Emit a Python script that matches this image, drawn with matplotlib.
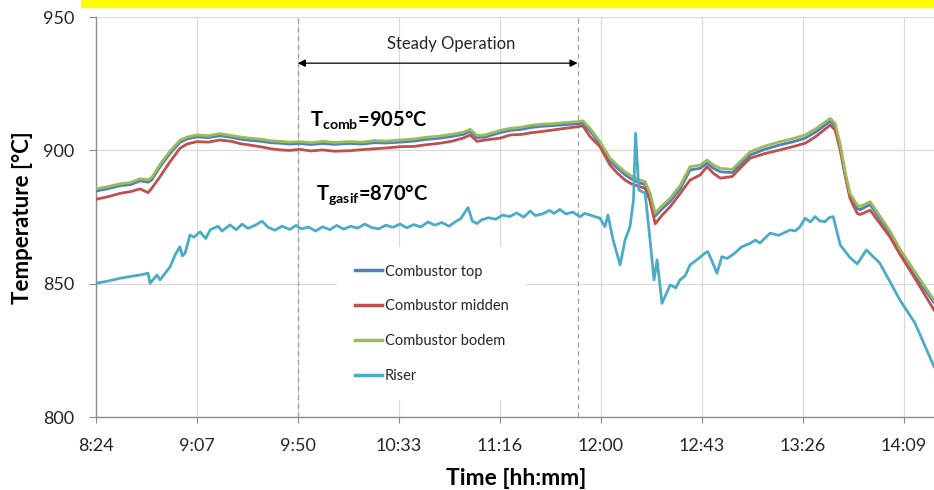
import matplotlib.pyplot as plt
from matplotlib.patches import Rectangle

plt.rcParams['font.family'] = 'Lato'
plt.rcParams['mathtext.fontset'] = 'custom'
plt.rcParams['mathtext.rm'] = 'Lato'
plt.rcParams['mathtext.bf'] = 'Lato:bold'
plt.rcParams['mathtext.it'] = 'Lato:italic'

# time in minutes since midnight, temperatures in degC
comb_time = [504, 509, 514.4, 519, 522.9, 526.4, 528, 531.5, 535.8, 540, 543, 547.3, 552,
             557.1, 562, 566, 569.9, 575, 579, 582.8, 587, 591.3, 596, 601, 606, 612.7,
             618, 623, 628, 634.1, 640, 645, 651.2, 656, 661, 664.1, 667, 670.5, 676.9,
             681.2, 686, 690, 694, 699, 704, 710.2, 712.3, 715.3, 719.6, 723.9, 727, 730.3,
             733, 736.7, 738.9, 741, 743.2, 746, 749.6, 754, 758.1, 762.4, 765.4, 768, 771,
             776.1, 780, 783.8, 790, 796.6, 802, 807.3, 812, 818, 820.1, 822.2, 824.4,
             826.5, 829.5, 830.8, 835.1, 843.6, 847.9, 855, 862.4]

comb_bodem = [885.6, 886.4, 887.5, 888.0, 889.4, 889.0, 889.9, 894.8, 899.8, 903.8, 905.0,
              905.8, 905.5, 906.3, 905.6, 905.0, 904.6, 904.2, 903.6, 903.4, 903.1, 903.3,
              902.9, 903.4, 903.0, 903.3, 903.1, 903.7, 903.5, 903.9, 904.3, 904.9, 905.4,
              906.0, 906.8, 907.9, 905.6, 905.8, 907.5, 908.3, 908.7, 909.4, 909.8, 910.0,
              910.4, 910.8, 911.1, 908.3, 903.3, 897.1, 894.5, 892.0, 890.4, 888.9, 888.3,
              884.0, 876.5, 879.2, 882.1, 887.0, 893.9, 894.5, 896.4, 894.6, 893.3, 892.9,
              896.2, 899.5, 901.6, 903.3, 904.4, 905.8, 908.2, 912.0, 910.2, 902.7, 892.0,
              883.9, 879.6, 879.0, 880.8, 869.8, 863.0, 853.5, 844.0]

comb_top = [884.8, 885.6, 886.8, 887.2, 888.6, 888.1, 889.0, 893.9, 898.9, 903.0, 904.3,
            905.1, 904.8, 905.5, 904.9, 904.2, 903.8, 903.4, 902.9, 902.7, 902.4, 902.6,
            902.2, 902.6, 902.3, 902.6, 902.4, 902.9, 902.8, 903.1, 903.5, 904.1, 904.6,
            905.2, 906.0, 907.1, 904.8, 905.0, 906.7, 907.5, 907.9, 908.6, 909.0, 909.3,
            909.6, 910.0, 910.3, 907.4, 902.4, 896.0, 893.4, 890.9, 889.3, 887.8, 887.2,
            882.9, 875.4, 878.0, 880.9, 885.8, 892.7, 893.3, 895.2, 893.4, 892.0, 891.7,
            895.0, 898.3, 900.4, 902.1, 903.2, 904.6, 907.0, 910.9, 909.1, 901.6, 891.0,
            882.8, 878.2, 877.8, 879.7, 868.8, 862.0, 852.4, 843.0]

comb_midden = [881.7, 882.6, 883.9, 884.6, 885.6, 884.2, 885.9, 890.2, 895.8, 900.8, 902.4,
               903.3, 903.1, 903.9, 903.4, 902.5, 902.0, 901.3, 900.6, 900.2, 900.0, 900.4,
               899.8, 900.2, 899.7, 899.9, 900.3, 900.6, 900.9, 901.4, 901.5, 902.1, 902.7,
               903.4, 904.6, 905.8, 903.4, 903.9, 904.6, 905.8, 906.0, 906.6, 907.0, 907.6,
               908.2, 908.9, 909.2, 905.2, 901.4, 894.5, 891.5, 888.9, 887.5, 886.4, 885.8,
               881.0, 872.5, 875.6, 878.9, 884.0, 888.9, 890.8, 893.9, 891.5, 889.6, 890.2,
               893.8, 897.1, 898.8, 900.2, 901.4, 902.7, 905.3, 909.5, 907.7, 900.5, 890.5,
               882.0, 876.5, 876.0, 877.6, 867.5, 861.0, 851.0, 840.2]

riser_time = [504, 509, 514.4, 519, 522.9, 526.4, 527.2, 530.2, 531.5, 535.8, 538, 540.0,
              541, 542.2, 544.3, 546, 548.6, 551, 553, 556.3, 558, 561.4, 564, 566.6, 569,
              572.5, 575.1, 577.7, 580.6, 583.6, 587, 589.6, 592, 595, 598, 601, 604, 607,
              610, 613, 616, 619, 622, 625, 628, 631, 634.1, 637, 640, 643, 646, 649, 652,
              655, 658, 660, 663.2, 665, 667, 669, 672, 675, 678, 681, 684, 687, 689.7, 692,
              695, 698, 700, 702.4, 705, 708, 711, 713, 715.3, 719.6, 721.7, 723.0, 725.2,
              728.2, 730.3, 732.4, 733.9, 734.8, 736.2, 738.9, 741.0, 742.7, 744.0, 746.1,
              749.6, 752, 753.8, 756, 758.1, 761, 764.5, 765.7, 767.5, 769.6, 771.7, 774,
              777.2, 780, 783.8, 786, 788, 792.3, 796, 800.9, 803, 805.1, 807.3, 809.5,
              811.6, 813.5, 815.8, 817.5, 819.3, 822.3, 826.6, 829.6, 833.5, 839.2, 847.8,
              854.2, 862.4]

riser = [850.2, 851.0, 852.1, 852.8, 853.3, 854.0, 850.2, 853.3, 851.5, 856.4, 861.0, 863.9,
         860.5, 861.5, 868.3, 867.5, 869.5, 867.0, 870.3, 871.6, 869.8, 872.1, 870.3, 872.4,
         870.8, 872.1, 873.5, 871.2, 870.1, 871.6, 870.4, 871.9, 870.6, 871.3, 869.8, 871.4,
         870.3, 871.9, 870.5, 871.6, 870.9, 872.4, 871.1, 870.6, 872.0, 871.2, 872.4, 871.0,
         872.2, 871.3, 873.2, 872.0, 873.0, 871.6, 873.4, 874.4, 878.6, 873.5, 872.6, 874.0,
         874.8, 874.2, 875.8, 875.2, 876.6, 875.0, 877.3, 875.6, 876.2, 877.5, 876.4, 877.9,
         876.2, 876.9, 875.1, 876.4, 875.8, 874.6, 871.4, 875.8, 866.4, 857.1, 866.4, 871.4,
         881.4, 906.4, 885.2, 883.9, 866.4, 851.5, 859.0, 842.7, 849.6, 848.5, 851.5, 853.0,
         857.1, 859.0, 861.5, 862.1, 858.5, 854.0, 860.2, 859.5, 861.5, 863.8, 865.2, 866.4,
         865.3, 869.0, 868.2, 870.2, 869.8, 871.4, 874.6, 873.2, 875.2, 873.6, 873.3, 874.8,
         875.2, 864.6, 859.7, 857.5, 862.7, 857.8, 844.0, 835.4, 819.0]

tick_pos = [504 + 43.2 * i for i in range(9)]
tick_labels = ['8:24', '9:07', '9:50', '10:33', '11:16', '12:00', '12:43', '13:26', '14:09']
steady_start, steady_end = 590.4, 710.0

fig = plt.figure(figsize=(9.34, 4.9), dpi=100)
ax = fig.add_axes([0.1025, 0.1484, 0.8975, 0.8169])

ax.plot(comb_time, comb_top, color='#4F81BD', lw=2.0, label='Combustor top', zorder=3)
ax.plot(comb_time, comb_midden, color='#C0504D', lw=2.0, label='Combustor midden', zorder=3)
ax.plot(comb_time, comb_bodem, color='#9BBB59', lw=2.0, label='Combustor bodem', zorder=3)
ax.plot(riser_time, riser, color='#4BACC6', lw=2.0, label='Riser', zorder=3)

ax.set_xlim(504, 862.4)
ax.set_ylim(800, 950)
ax.set_xticks(tick_pos)
ax.set_xticklabels(tick_labels)
ax.set_yticks([800, 850, 900, 950])
ax.grid(True, color='#D9D9D9', lw=0.9)
ax.set_axisbelow(True)
for side in ['top', 'right']:
    ax.spines[side].set_visible(False)
for side in ['left', 'bottom']:
    ax.spines[side].set_color('#8C8C8C')
    ax.spines[side].set_linewidth(1.0)
ax.tick_params(axis='y', length=5, color='#8C8C8C', pad=10.5, labelsize=13, labelcolor='#262626')
ax.tick_params(axis='x', length=4.5, color='#8C8C8C', pad=10.5, labelsize=13, labelcolor='#262626')

ax.set_ylabel('Temperature [°C]', fontsize=16, fontweight='bold')
ax.yaxis.set_label_coords(-0.0745, 0.5)
ax.set_xlabel('Time [hh:mm]', fontsize=16.5, fontweight='bold')
ax.xaxis.set_label_coords(0.501, -0.152)
ax.xaxis.label.set_verticalalignment('center')

# steady operation window
for t in [steady_start, steady_end]:
    ax.axvline(t, color='#A0A0A0', lw=0.9, ls=(0, (4, 3)), zorder=2)
ax.annotate('', xy=(steady_end, 932.7), xytext=(steady_start, 932.7),
            arrowprops=dict(arrowstyle='<|-|>', color='black', lw=0.9,
                            mutation_scale=11, shrinkA=0, shrinkB=0))
ax.text(655.9, 940.0, 'Steady Operation', ha='center', va='center', fontsize=12,
        color='#262626')

ax.text(595.5, 908.8, r'$\mathbf{T_{comb}}$=905°C', fontsize=14.5, fontweight='bold',
        va='baseline', ha='left')
ax.text(598.3, 881.4, r'$\mathbf{T_{gasif}}$=870°C', fontsize=14.5, fontweight='bold',
        va='baseline', ha='left')

leg = ax.legend(loc='upper left', bbox_to_anchor=(337 / 934, 1 - 247 / 490),
                bbox_transform=fig.transFigure, fontsize=10.5, frameon=True,
                facecolor='white', edgecolor='none', framealpha=1, fancybox=False,
                handlelength=1.9, handletextpad=0.2, labelspacing=1.42, borderpad=1.2,
                borderaxespad=0)
for line in leg.get_lines():
    line.set_linewidth(2.5)
for txt in leg.get_texts():
    txt.set_color('#262626')

fig.patches.append(Rectangle((81 / 934, 1 - 7 / 490), (934 - 81) / 934, 7 / 490,
                             transform=fig.transFigure, color='#FFFF00', zorder=0))

plt.savefig('out.png', dpi=100)
